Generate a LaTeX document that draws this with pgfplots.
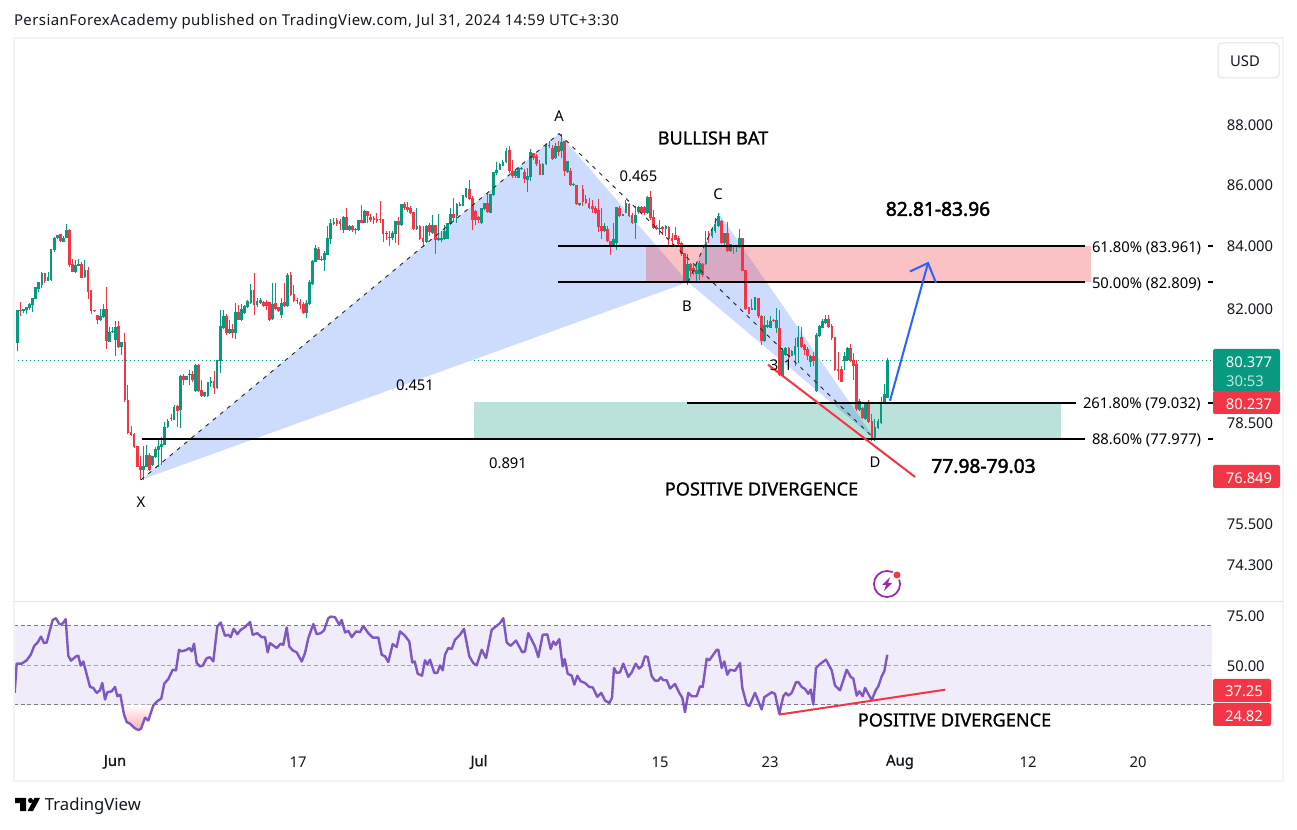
\documentclass[border=0pt]{standalone}
\usepackage{pgfplots}
\usepackage{pgfplotstable}
\usepackage{fontspec}
\pgfplotsset{compat=1.18}
\setmainfont{Noto Sans}
\newfontfamily\medfont[FakeBold=1]{Noto Sans}
\newfontfamily\heavyfont[FakeBold=2.2]{Noto Sans}
\newfontfamily\hdrfont[LetterSpace=3]{Noto Sans}
\definecolor{upc}{HTML}{089981}
\definecolor{dnc}{HTML}{F23645}
\definecolor{txt}{HTML}{131722}
\definecolor{frame}{HTML}{F0F3FA}
\definecolor{sep}{HTML}{E0E3EB}
\definecolor{xabcd}{HTML}{CDDBFD}
\definecolor{rsiline}{HTML}{7E57C2}
\definecolor{rsiband}{HTML}{F0ECF9}
\definecolor{dashc}{HTML}{787B86}
\definecolor{arrowc}{HTML}{2962FF}
\definecolor{newsc}{HTML}{9C27B0}
\newcommand{\fs}[1]{\fontsize{#1}{#1}\selectfont}
\pgfplotstableread{
i o h l c
0 80.90 81.96 80.65 81.94
1 81.94 82.19 81.75 81.93
2 81.93 81.99 81.84 81.96
3 81.95 82.04 81.81 82.03
4 82.00 82.17 81.94 82.13
5 82.11 82.34 81.87 82.31
6 82.30 82.69 82.28 82.65
7 82.62 82.85 82.50 82.83
8 82.74 83.14 82.63 83.11
9 83.11 83.12 82.80 82.88
10 82.88 83.15 82.86 82.97
11 82.90 83.87 82.88 83.87
12 83.85 84.28 83.78 84.23
13 84.24 84.34 84.22 84.32
14 84.35 84.39 84.11 84.14
15 84.13 84.30 84.11 84.25
16 84.26 84.72 84.25 84.49
17 84.49 84.54 83.30 83.37
18 83.39 83.58 83.14 83.14
19 83.14 83.53 83.12 83.35
20 83.36 83.56 83.34 83.39
21 83.39 83.47 82.95 82.97
22 82.98 83.53 82.96 83.19
23 83.19 83.33 82.30 82.52
24 82.55 82.55 81.82 81.92
25 81.93 81.94 81.88 81.91
26 81.76 81.78 81.50 81.62
27 81.62 81.97 81.60 81.74
28 81.73 82.15 81.68 81.97
29 81.97 82.66 80.73 80.97
30 80.94 81.41 80.93 81.25
31 81.25 81.40 81.23 81.27
32 81.00 81.59 80.52 81.40
33 81.43 81.59 80.75 80.80
34 80.80 80.94 80.55 80.94
35 80.94 81.23 79.10 79.16
36 79.16 79.62 78.14 78.16
37 78.17 78.39 78.07 78.09
38 78.12 78.16 77.71 77.73
39 77.76 77.78 77.14 77.16
40 77.16 77.47 76.77 77.07
41 77.05 77.77 76.77 77.16
42 77.16 77.81 77.14 77.50
43 77.50 77.55 77.03 77.05
44 77.20 77.45 77.18 77.45
45 77.45 77.74 77.43 77.67
46 77.67 77.99 77.16 77.76
47 77.75 78.04 77.20 77.84
48 77.82 78.50 77.79 78.34
49 78.34 78.58 78.33 78.52
50 78.60 78.75 78.55 78.58
51 78.57 79.03 78.57 78.93
52 78.97 79.03 78.34 78.85
53 78.87 79.94 78.31 79.88
54 79.88 79.97 79.62 79.78
55 79.78 79.88 79.76 79.88
56 79.92 80.09 79.62 79.93
57 79.93 80.04 79.73 79.80
58 79.45 80.27 79.42 80.21
59 80.21 80.27 79.42 79.45
60 79.45 79.76 79.26 79.28
61 79.28 79.42 79.26 79.39
62 79.28 79.73 79.26 79.70
63 79.68 79.88 79.57 79.72
64 79.72 80.03 79.34 79.52
65 79.52 80.38 79.49 80.38
66 80.35 81.96 79.99 81.42
67 81.38 81.96 81.35 81.75
68 81.75 81.81 81.15 81.22
69 81.22 81.62 81.18 81.32
70 81.32 81.52 81.06 81.22
71 81.22 82.17 81.03 81.87
72 81.87 82.09 81.62 81.64
73 81.64 82.15 81.60 81.97
74 81.85 82.10 81.81 82.06
75 82.04 82.26 82.02 82.20
76 82.17 82.76 82.15 82.55
77 82.55 83.12 81.78 82.11
78 82.11 82.31 82.04 82.20
79 82.17 82.31 82.13 82.26
80 82.17 82.24 82.04 82.06
81 82.17 82.26 81.96 82.06
82 82.17 82.20 81.60 81.64
83 81.65 82.79 81.64 82.13
84 82.15 82.79 81.94 81.99
85 82.04 82.04 81.87 81.91
86 81.78 82.31 81.71 82.15
87 82.17 82.79 82.04 82.06
88 82.06 83.12 82.04 83.04
89 83.04 83.14 82.39 82.42
90 82.45 82.74 82.20 82.24
91 82.24 82.31 82.13 82.22
92 82.17 82.28 81.99 82.10
93 82.13 82.20 81.83 81.85
94 81.85 82.26 81.71 82.15
95 82.13 82.90 82.10 82.81
96 82.77 83.53 82.74 83.50
97 83.48 84.03 83.46 83.90
98 83.87 83.96 83.53 83.55
99 83.57 83.66 83.51 83.53
100 83.55 83.82 83.20 83.74
101 83.71 84.65 83.70 84.25
102 84.22 84.87 84.06 84.73
103 84.71 84.89 84.68 84.77
104 84.81 84.91 84.65 84.71
105 84.78 84.86 84.50 84.71
106 84.52 84.95 84.41 84.93
107 84.93 85.22 84.50 84.52
108 84.52 84.68 84.47 84.63
109 84.63 84.68 84.43 84.50
110 84.52 84.57 84.37 84.50
111 84.50 84.82 84.47 84.81
112 84.81 85.33 84.73 84.75
113 84.75 85.17 84.73 85.10
114 85.10 85.11 84.73 84.97
115 84.92 85.03 84.78 84.84
116 84.88 84.97 84.71 84.82
117 84.84 85.06 84.75 84.81
118 84.84 85.47 84.73 84.82
119 84.84 84.86 84.11 84.39
120 84.41 84.47 84.17 84.39
121 84.27 84.47 83.98 84.25
122 84.25 84.47 84.17 84.41
123 84.39 84.79 84.08 84.78
124 84.78 84.92 84.03 84.68
125 84.68 85.33 84.65 85.33
126 85.33 85.41 85.17 85.21
127 85.26 85.44 85.11 85.17
128 85.22 85.28 85.03 85.08
129 85.08 85.11 84.52 84.54
130 84.54 85.22 84.52 84.63
131 84.63 84.68 84.20 84.22
132 84.22 84.63 83.96 84.11
133 84.11 84.68 84.09 84.63
134 84.65 84.73 84.30 84.43
135 84.41 85.00 84.39 84.65
136 84.65 84.68 83.74 84.17
137 84.20 85.03 84.14 84.22
138 84.20 84.47 84.11 84.25
139 84.22 84.68 84.20 84.47
140 84.22 84.75 84.22 84.73
141 84.71 85.24 84.68 85.00
142 85.00 85.56 84.78 84.91
143 84.95 85.39 84.75 85.33
144 85.30 85.44 85.28 85.33
145 85.30 85.67 85.28 85.63
146 85.59 85.88 85.56 85.86
147 85.83 86.14 85.50 85.52
148 85.53 85.63 84.50 84.84
149 85.11 85.17 84.68 84.84
150 84.92 84.97 84.73 84.82
151 84.73 85.22 84.71 85.21
152 85.19 85.39 85.17 85.37
153 85.37 85.72 85.08 85.11
154 85.08 85.70 85.08 85.67
155 85.64 86.43 85.63 86.39
156 86.37 86.74 86.33 86.47
157 86.50 86.72 86.48 86.67
158 86.63 86.80 86.61 86.74
159 86.74 87.22 86.72 87.11
160 87.14 87.30 86.39 86.44
161 86.44 86.83 86.22 86.28
162 86.28 86.50 86.22 86.44
163 86.20 86.59 86.20 86.54
164 86.52 86.57 86.50 86.54
165 86.39 86.52 86.06 86.17
166 86.14 86.56 85.75 86.28
167 86.24 87.19 86.11 87.06
168 87.02 87.06 86.83 86.87
169 86.94 87.00 86.61 86.67
170 86.67 86.83 86.30 86.31
171 86.31 86.72 86.30 86.67
172 86.67 87.39 86.65 87.33
173 87.30 87.44 87.20 87.28
174 87.19 87.33 86.83 86.86
175 86.89 87.39 86.86 87.26
176 87.26 87.46 86.94 87.08
177 87.11 87.70 86.89 87.42
178 87.44 87.44 86.28 86.44
179 86.42 86.78 86.39 86.76
180 86.44 86.56 85.94 85.98
181 85.97 86.06 85.94 86.00
182 85.98 86.00 85.33 85.37
183 85.34 85.40 85.30 85.37
184 85.83 86.00 85.30 85.44
185 85.52 85.67 85.36 85.39
186 85.39 85.56 85.19 85.22
187 85.28 85.50 85.06 85.19
188 85.22 85.28 85.03 85.06
189 85.14 85.52 84.43 84.60
190 84.63 85.22 84.22 84.47
191 84.48 84.75 84.43 84.63
192 84.54 84.63 84.11 84.14
193 84.14 84.14 83.71 84.03
194 84.03 84.73 84.00 84.20
195 84.09 85.26 83.85 85.24
196 85.22 85.28 84.93 84.95
197 84.97 85.03 84.95 85.01
198 85.08 85.50 85.06 85.36
199 85.33 85.39 84.93 84.95
200 84.97 85.06 84.71 84.75
201 84.73 85.30 84.22 84.97
202 85.11 85.28 85.03 85.26
203 85.24 85.30 85.03 85.06
204 85.24 85.28 85.00 85.06
205 85.06 85.63 85.03 85.56
206 85.56 85.80 84.84 84.89
207 84.91 85.17 84.54 84.57
208 84.60 84.68 84.52 84.54
209 84.54 84.84 84.35 84.57
210 84.60 84.65 84.35 84.54
211 84.54 84.68 84.30 84.63
212 84.60 84.63 83.96 84.22
213 84.25 84.41 84.03 84.14
214 84.32 84.60 84.17 84.19
215 84.25 84.30 84.00 84.06
216 84.06 84.11 83.68 83.74
217 83.74 83.76 82.81 82.85
218 82.85 83.74 82.74 83.41
219 83.41 83.44 83.01 83.20
220 83.28 83.39 83.06 83.14
221 83.10 83.44 82.88 83.19
222 83.10 83.49 82.90 83.44
223 83.41 83.44 82.99 83.06
224 83.41 84.46 83.39 84.11
225 84.41 84.49 84.09 84.30
226 84.30 84.57 84.25 84.46
227 84.46 84.89 84.41 84.68
228 84.63 85.05 84.60 84.95
229 84.78 84.84 84.06 84.09
230 84.09 84.41 84.03 84.39
231 84.39 84.78 83.78 83.82
232 83.82 84.06 83.78 84.03
233 84.00 84.03 83.74 83.96
234 83.96 84.02 83.78 84.00
235 83.96 84.54 83.92 84.22
236 84.22 84.25 83.17 83.20
237 83.20 83.20 81.96 81.99
238 82.02 82.04 81.81 81.81
239 81.94 82.30 81.94 81.99
240 81.96 82.36 81.94 82.34
241 82.30 82.30 81.71 81.75
242 81.75 81.78 80.85 80.98
243 80.98 81.75 80.95 81.47
244 81.42 81.62 81.37 81.47
245 81.39 81.75 81.39 81.60
246 81.62 81.67 81.57 81.60
247 81.37 82.00 81.21 81.62
248 81.37 81.96 79.89 79.94
249 79.89 80.75 79.87 80.64
250 80.54 80.80 80.52 80.75
251 80.75 80.80 80.24 80.52
252 80.52 80.70 80.50 80.64
253 80.54 81.08 80.21 80.80
254 80.80 81.44 80.29 81.08
255 81.08 81.41 80.75 80.80
256 80.82 80.88 80.54 80.70
257 80.72 80.80 80.39 80.50
258 80.31 80.54 80.17 80.50
259 80.50 80.62 80.19 80.34
260 79.45 81.21 79.42 81.15
261 81.12 81.47 81.10 81.44
262 81.39 81.65 81.37 81.57
263 81.54 81.78 81.52 81.65
264 81.65 81.78 81.39 81.42
265 81.44 81.52 81.00 81.07
266 81.07 81.10 80.04 80.07
267 80.09 80.64 79.78 80.04
268 80.09 80.19 79.71 79.73
269 80.34 80.64 80.09 80.48
270 80.37 80.80 80.34 80.75
271 80.75 80.88 80.31 80.34
272 80.37 80.60 79.78 80.21
273 80.24 80.39 78.85 78.90
274 78.87 79.20 78.83 79.13
275 78.90 78.95 78.60 78.63
276 78.60 79.10 78.57 79.05
277 79.05 79.17 78.47 78.50
278 78.50 78.75 77.94 77.96
279 77.96 78.60 77.94 78.35
280 78.33 78.60 78.30 78.50
281 78.47 79.25 78.45 79.10
282 79.08 79.67 79.08 79.34
283 79.24 80.43 79.24 80.38
}\candles
\pgfplotstableread{
x r
14.7 35.9
16.7 50.7
21.7 50.7
26.7 52.4
30.7 55.2
34.3 59.7
37.7 61.4
41 64.4
44 61.1
46.7 61.4
50 67.8
52.7 72.8
56 73.7
59.3 70.7
62.3 70.8
65.7 73.2
68.3 54.7
71 52.2
76 54.4
78.3 54.7
80.7 49.7
83.3 51.8
90 38.9
93.3 38.4
96.7 35.9
100 37.2
102.3 40.9
105 32.5
107.3 36.2
111.7 36.7
115 38.9
117.3 34.2
120.3 35.0
124 25.0
126.7 21.1
130 20.3
135 17.9
138.3 17.1
141 17.7
145 23.3
148.3 21.9
153.3 29.5
157.3 31.7
161.3 33.0
164.3 40.6
168.3 42.9
172.7 47.6
176 47.3
179 57.7
181.7 56.9
186.7 57.7
189.3 58.6
191.7 56.9
194 60.8
196.7 51.0
200 49.3
202.7 49.7
206.7 53.5
210 53.9
213.3 51.8
217.3 69.5
220.7 71.5
225 64.8
228.3 65.3
230.7 64.1
233.7 68.3
237.3 65.6
240.7 67.8
245 69.2
250 71.8
252.7 65.3
257.3 66.1
261.7 64.1
265 64.1
267.7 56.4
270 61.1
276.7 58.6
280.7 60.8
283.3 60.2
286.7 69.0
289.3 59.4
292.7 57.4
296.7 56.4
301.7 51.8
305 56.0
308.3 63.6
313.3 70.7
316.7 65.6
320.7 66.1
324 67.5
328.3 73.7
330.7 74.5
335 74.2
339.3 70.3
341.7 72.8
345 66.5
348.3 67.3
351.7 64.1
356 67.0
360 66.6
363.3 69.8
368.3 66.1
372.7 63.9
378.3 63.9
381.7 55.2
385 54.4
388.3 51.5
392.7 60.6
396.7 59.1
400 67.0
405 64.8
409.3 61.9
412.3 51.3
414.7 51.8
417.7 45.6
422 44.6
425 52.4
427.3 50.2
430 52.7
434.3 46.0
437.3 46.0
440 49.8
442.7 47.3
445 55.2
448.3 58.6
451.7 58.1
455 62.8
460 65.3
464 68.3
469.3 54.4
473.3 51.0
476.7 49.8
481.7 57.7
486 53.5
491.7 67.8
500 71.2
503.3 73.7
506.7 61.4
510.7 59.7
516 62.4
522.3 56.4
525 56.9
528.3 66.1
535 59.4
538.3 54.0
542.7 65.3
547.3 65.5
550.7 58.1
553.3 61.9
555.7 60.2
559.3 63.1
562.7 49.3
564.7 53.0
567.7 45.6
571.7 44.6
574.3 40.1
577.3 44.6
580.7 41.8
585 40.9
589.3 38.9
592.7 38.7
597.3 33.9
601.3 35.9
605 32.0
609.3 30.8
612 33.4
614 48.5
616.7 46.0
620 46.3
623.3 50.7
628.3 44.0
631.7 46.3
635.7 50.7
639 48.2
641.7 49.3
645 54.4
647.7 54.0
651.7 44.3
655 42.1
658.3 42.1
660.7 43.8
663.3 42.3
666.7 42.3
670 38.1
675 40.4
679.3 35.9
682.3 33.4
685 26.1
688.3 35.9
691.7 34.2
696.7 34.2
700 39.2
702.7 38.9
706.7 53.2
709.3 52.4
716.7 57.7
718.3 57.7
721.7 48.5
724.3 51.8
727.3 45.1
730 47.6
735 47.1
740 51.0
742.3 38.4
746.7 30.0
749.3 29.2
755 35.9
761.7 27.5
764.3 33.7
771.7 36.2
775 35.4
779.3 25.3
783.3 34.2
786 35.9
788.3 34.5
791.7 35.9
796 41.3
798.3 41.4
801.7 38.9
805 37.9
808.3 35.4
810.7 37.6
813.3 30.0
816 48.5
820 50.5
826 52.7
831.7 47.3
835 39.6
840 37.2
846.7 47.6
850.7 44.0
853.3 43.1
856.7 34.5
859.3 36.7
862.7 34.2
865 38.4
871.7 32.2
875.7 37.2
878.3 39.2
881.7 44.3
884.3 46.8
887.3 55.2
}\rsi
\tikzset{lab/.style={inner sep=0pt,outer sep=0pt,text=black,font=\fs{11.1}},
 big/.style={inner sep=0pt,outer sep=0pt,text=black,font=\medfont\fs{13.6}},
 hvy/.style={inner sep=0pt,outer sep=0pt,text=black,font=\heavyfont\fs{14.4}}}
\begin{document}
\begin{tikzpicture}
\path[use as bounding box,fill=white] (0,0) rectangle (972.75pt,621.75pt);
\begin{axis}[name=main,at={(10.5pt,170.25pt)},anchor=south west,scale only axis,
 width=898.5pt,height=423pt,clip=false,
 xmin=14,xmax=1212,ymode=log,ymin=73.25,ymax=90.99,
 axis line style={draw=none},xtick=\empty,
 ytick={74.3,75.5,78.5,82,84,86,88},
 yticklabels={74.300,75.500,78.500,82.000,84.000,86.000,88.000},
 ytick pos=right,major tick length=0pt,
 yticklabel style={anchor=west,xshift=7.6pt,yshift=-.7pt,text=txt,font=\fs{11.1}}]
\addplot[upc,line width=.9pt,dash pattern=on .9pt off 2.1pt] coordinates {(14,80.37)(1212,80.37)};
\addplot[fill=xabcd,draw=none] coordinates {(141,76.77)(559,87.70)(688,82.83)} -- cycle;
\addplot[fill=xabcd,draw=none] coordinates {(688,82.83)(719,85.05)(875,77.98)} -- cycle;
\addplot[fill=dnc,fill opacity=.30,draw=none] coordinates {(646,83.99)(1091,83.99)(1091,82.84)(646,82.84)} -- cycle;
\addplot[fill=upc,fill opacity=.28,draw=none] coordinates {(474,79.11)(1061,79.11)(1061,78.02)(474,78.02)} -- cycle;
\addplot[dnc!55,line width=.9pt] coordinates {(14.6,81.07)(14.6,80.50)};
\addplot[draw=none,forget plot,error bars/.cd,y dir=plus,y explicit,error mark=none,error bar style={draw=upc,line width=.75pt}]
 table[x expr={\thisrow{c}>=\thisrow{o} ? 17.3+3.074*\thisrow{i} : nan},y=l,y error plus expr=\thisrow{h}-\thisrow{l}] {\candles};
\addplot[draw=none,forget plot,error bars/.cd,y dir=plus,y explicit,error mark=none,error bar style={draw=dnc,line width=.75pt}]
 table[x expr={\thisrow{c}<\thisrow{o} ? 17.3+3.074*\thisrow{i} : nan},y=l,y error plus expr=\thisrow{h}-\thisrow{l}] {\candles};
\addplot[draw=none,forget plot,error bars/.cd,y dir=plus,y explicit,error mark=none,error bar style={draw=upc,line width=2.05pt}]
 table[x expr={\thisrow{c}>=\thisrow{o} ? 17.3+3.074*\thisrow{i} : nan},y=o,y error plus expr=\thisrow{c}-\thisrow{o}+0.015] {\candles};
\addplot[draw=none,forget plot,error bars/.cd,y dir=plus,y explicit,error mark=none,error bar style={draw=dnc,line width=2.05pt}]
 table[x expr={\thisrow{c}<\thisrow{o} ? 17.3+3.074*\thisrow{i} : nan},y=c,y error plus expr=\thisrow{o}-\thisrow{c}+0.015] {\candles};
\addplot[black,line width=1.5pt] coordinates {(558,83.98)(1085,83.98)};
\addplot[black,line width=1.5pt] coordinates {(558,82.84)(1085,82.84)};
\addplot[black,line width=1.5pt] coordinates {(687,79.08)(1076,79.08)};
\addplot[black,line width=1.5pt] coordinates {(142,77.99)(1085,77.99)};
\addplot[black,line width=1.5pt] coordinates {(1208,83.98)(1213,83.98)};
\addplot[black,line width=1.5pt] coordinates {(1208,82.84)(1213,82.84)};
\addplot[black,line width=1.5pt] coordinates {(1208,79.08)(1213,79.08)};
\addplot[black,line width=1.5pt] coordinates {(1208,77.99)(1213,77.99)};
\addplot[black!85,line width=.7pt,dash pattern=on 3pt off 4pt] coordinates {(141,76.77)(559,87.70)};
\addplot[black!85,line width=.7pt,dash pattern=on 3pt off 4pt] coordinates {(559,87.70)(875,77.98)};
\addplot[black!85,line width=.7pt,dash pattern=on 3pt off 4pt] coordinates {(688,82.83)(719,85.05)};
\addplot[dnc,line width=1.5pt] coordinates {(768,80.24)(915,76.85)};
\addplot[arrowc,line width=1.5pt] coordinates {(890,79.14)(928,83.44)};
\addplot[arrowc,line width=1.5pt] coordinates {(910,83.17)(928,83.44)(936,82.81)};
\end{axis}
\begin{axis}[name=rsi,at={(10.5pt,62.25pt)},anchor=south west,scale only axis,
 width=898.5pt,height=108pt,clip=false,
 xmin=14,xmax=1212,ymin=9,ymax=81.9,
 axis line style={draw=none},
 xtick={115,298,479,660,770,900,1028,1138},
 xticklabels={\medfont Jun,17,\medfont Jul,15,23,\medfont Aug,12,20},
 ytick={50,75},yticklabels={50.00,75.00},
 ytick pos=right,major tick length=0pt,
 xticklabel style={anchor=center,yshift=-12pt,text=txt,font=\fs{11.1}},
 yticklabel style={anchor=west,xshift=7.6pt,yshift=-.7pt,text=txt,font=\fs{11.1}}]
\addplot[fill=rsiband,draw=none] coordinates {(14,70)(1212,70)(1212,30)(14,30)} -- cycle;
\addplot[dashc,line width=.75pt,dash pattern=on 3pt off 2pt] coordinates {(14,70)(1212,70)};
\addplot[dashc!70,line width=.75pt,dash pattern=on 3pt off 2pt] coordinates {(14,50)(1212,50)};
\addplot[dashc,line width=.75pt,dash pattern=on 3pt off 2pt] coordinates {(14,30)(1212,30)};
\addplot[draw=none,top color=white,bottom color=dnc!40] coordinates {(122.3,30)(124,25.0)(126.7,21.1)(130,20.3)(135,17.9)(138.3,17.1)(141,17.7)(145,23.3)(148.3,21.9)(153.3,29.5)(153.8,30)} -- cycle;
\addplot[rsiline,line width=1.8pt,line join=round] table[x=x,y=r] {\rsi};
\addplot[dnc,line width=1.5pt] coordinates {(779,24.9)(945,37.5)};
\end{axis}
\begin{scope}[x=0.75pt,y=-0.75pt,shift={(0pt,621.75pt)}]
\draw[frame,line width=1.5pt] (14,38) rectangle (1283,781);
\draw[sep,line width=.75pt] (14,602) -- (1283,602);
\node[lab,anchor=west,text=txt,font=\hdrfont\fs{11.2}] at (14,22) {PersianForexAcademy published on TradingView.com, Jul 31, 2024 14:59 UTC+3:30};
\fill[black] (15,798) -- (26,798) -- (26,811) -- (20,811) -- (20,803) -- (15,803) -- cycle;
\fill[black] (30.5,800.5) circle (1.9pt);
\fill[black] (34.5,798) -- (40,798) -- (33,811) -- (27.5,811) -- cycle;
\node[lab,anchor=west,text=txt,font=\fs{12.5}] at (45,806.5) {TradingView};
\draw[sep,rounded corners=3pt,line width=.75pt] (1218,43) rectangle (1279,78);
\node[lab,text=txt] at (1245,61) {USD};
\node[lab] at (559,116) {A};
\node[lab] at (718,194) {C};
\node[lab] at (687,306) {B};
\node[lab] at (875,462) {D};
\node[lab] at (141,502) {X};
\node[lab] at (638.5,176) {0.465};
\node[lab] at (415,385) {0.451};
\node[lab] at (508,463) {0.891};
\node[lab] at (774,365) {3};
\node[lab] at (788,365) {1};
\node[big] at (713,138) {BULLISH BAT};
\node[hvy] at (938,209) {82.81-83.96};
\node[hvy] at (983.5,466) {77.98-79.03};
\node[big] at (761.5,489) {POSITIVE DIVERGENCE};
\node[big] at (954.5,720) {POSITIVE DIVERGENCE};
\node[lab,anchor=west] at (1092,248) {61.80\% (83.961)};
\node[lab,anchor=west] at (1092,284) {50.00\% (82.809)};
\node[lab,anchor=west] at (1083,404) {261.80\% (79.032)};
\node[lab,anchor=west] at (1092,440) {88.60\% (77.977)};
\fill[upc,rounded corners=1.5pt] (1213,349) rectangle (1280,392);
\node[lab,text=white] at (1249,362) {80.377};
\node[lab,text=white!75!upc] at (1245,381) {30:53};
\fill[dnc,rounded corners=1.5pt] (1213,391) rectangle (1280,414);
\node[lab,text=white] at (1249,404) {80.237};
\fill[dnc,rounded corners=1.5pt] (1213,465) rectangle (1280,488);
\node[lab,text=white] at (1249,478) {76.849};
\fill[dnc,rounded corners=1.5pt] (1213,679) rectangle (1271,702);
\node[lab,text=white] at (1244,691) {37.25};
\fill[dnc,rounded corners=1.5pt] (1213,703) rectangle (1271,726);
\node[lab,text=white] at (1244,716) {24.82};
\draw[newsc,line width=1.3pt] (887,584) circle (9.8pt);
\fill[white] (897,575) circle (4pt);
\fill[dnc] (897,575) circle (2.6pt);
\fill[newsc] (890,577) -- (882,585) -- (886,585) -- (884,591) -- (892,583) -- (888,583) -- cycle;
\end{scope}
\end{tikzpicture}
\end{document}
